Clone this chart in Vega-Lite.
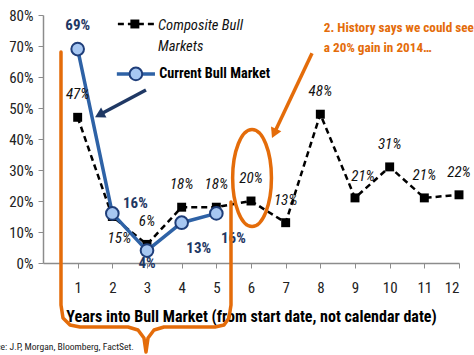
{
  "$schema": "https://vega.github.io/schema/vega-lite/v6.json",
  "width": 416,
  "height": 248,
  "autosize": "none",
  "padding": {"left": 43, "top": 15, "right": 15, "bottom": 92},
  "background": "white",
  "config": {
    "view": {"stroke": null},
    "font": "Roboto Condensed"
  },
  "datasets": {
    "composite": [
      {"year": 1, "gain": 47, "label": "47%"},
      {"year": 2, "gain": 15, "label": "15%"},
      {"year": 3, "gain": 6, "label": "6%"},
      {"year": 4, "gain": 18, "label": "18%"},
      {"year": 5, "gain": 18, "label": "18%"},
      {"year": 6, "gain": 20, "label": "20%"},
      {"year": 7, "gain": 13, "label": "13%"},
      {"year": 8, "gain": 48, "label": "48%"},
      {"year": 9, "gain": 21, "label": "21%"},
      {"year": 10, "gain": 31, "label": "31%"},
      {"year": 11, "gain": 21, "label": "21%"},
      {"year": 12, "gain": 22, "label": "22%"}
    ],
    "current": [
      {"year": 1, "gain": 69, "label": "69%"},
      {"year": 2, "gain": 16, "label": "16%"},
      {"year": 3, "gain": 4, "label": "4%"},
      {"year": 4, "gain": 13, "label": "13%"},
      {"year": 5, "gain": 16, "label": "16%"}
    ],
    "legendCompositeLine": [{"year": 2.16, "gain": 77.1}, {"year": 3.23, "gain": 77.1}],
    "legendCompositeMark": [{"year": 2.65, "gain": 77.1}],
    "legendCurrentLine": [{"year": 2.13, "gain": 61.0}, {"year": 3.23, "gain": 61.0}],
    "legendCurrentMark": [{"year": 2.68, "gain": 61.0}],
    "legendCompositeText": [
      {"year": 3.32, "gain": 76.4, "label": "Composite Bull"},
      {"year": 3.32, "gain": 69.8, "label": "Markets"}
    ],
    "legendCurrentText": [{"year": 3.35, "gain": 61.0, "label": "Current Bull Market"}],
    "navyArrow": [{"year": 2.97, "gain": 55.8}, {"year": 1.627, "gain": 47.8}],
    "navyHead": [{"year": 1.627, "gain": 47.8}],
    "bracket": [
      {"i": 1, "year": 0.519, "gain": 68.06},
      {"i": 2, "year": 0.519, "gain": -13.55},
      {"i": 3, "year": 0.577, "gain": -17.74},
      {"i": 4, "year": 0.779, "gain": -20.0},
      {"i": 5, "year": 1.067, "gain": -20.65},
      {"i": 6, "year": 2.452, "gain": -20.65},
      {"i": 7, "year": 2.74, "gain": -21.61},
      {"i": 8, "year": 2.913, "gain": -24.19},
      {"i": 9, "year": 2.971, "gain": -28.71},
      {"i": 10, "year": 3.029, "gain": -24.19},
      {"i": 11, "year": 3.202, "gain": -21.61},
      {"i": 12, "year": 3.49, "gain": -20.65},
      {"i": 13, "year": 4.961, "gain": -20.65},
      {"i": 14, "year": 5.221, "gain": -20.0},
      {"i": 15, "year": 5.365, "gain": -17.74},
      {"i": 16, "year": 5.423, "gain": -13.55},
      {"i": 17, "year": 5.423, "gain": 19.68}
    ],
    "ellipse": [{"year": 6.03, "gain": 27.4}],
    "orangeArrow": [{"year": 7.76, "gain": 67.7}, {"year": 6.666, "gain": 41.8}],
    "orangeHead": [{"year": 6.666, "gain": 41.8}],
    "orangeText": [
      {"year": 8.1, "gain": 75.8, "label": "2. History says we could see"},
      {"year": 8.1, "gain": 69.4, "label": "a 20% gain in 2014…"}
    ],
    "source": [{"year": -1.85, "gain": -27.1, "label": "Source: J.P, Morgan, Bloomberg, FactSet."}]
  },
  "encoding": {
    "x": {
      "field": "year",
      "type": "quantitative",
      "scale": {"domain": [0, 12], "nice": false, "zero": false},
      "axis": {
        "values": [1, 2, 3, 4, 5, 6, 7, 8, 9, 10, 11, 12],
        "format": "d",
        "grid": false,
        "domainColor": "#8c8c8c",
        "domainWidth": 1.5,
        "tickColor": "#8c8c8c",
        "tickSize": 5,
        "labelFont": "Roboto Condensed",
        "labelFontSize": 15,
        "labelColor": "#222222",
        "labelPadding": 12,
        "title": "Years into Bull Market (from start date, not calendar date)",
        "titleFont": "Roboto Condensed",
        "titleFontSize": 16,
        "titleFontWeight": "bold",
        "titleColor": "#000000",
        "titlePadding": 13
      }
    },
    "y": {
      "field": "gain",
      "type": "quantitative",
      "scale": {"domain": [0, 80], "nice": false},
      "axis": {
        "values": [0, 10, 20, 30, 40, 50, 60, 70, 80],
        "labelExpr": "datum.value + '%'",
        "title": null,
        "grid": false,
        "domainColor": "#8c8c8c",
        "domainWidth": 1.5,
        "tickColor": "#8c8c8c",
        "tickSize": 5,
        "labelFont": "Roboto Condensed",
        "labelFontSize": 15,
        "labelColor": "#222222",
        "labelPadding": 5
      }
    }
  },
  "layer": [
    {"data": {"name": "composite"}, "mark": {"type": "line", "color": "#000000", "strokeDash": [6, 4], "strokeWidth": 2.5}},
    {"data": {"name": "composite"}, "mark": {"type": "point", "shape": "square", "filled": true, "color": "#000000", "size": 80, "opacity": 1}},
    {"data": {"name": "current"}, "mark": {"type": "line", "color": "#2E62A6", "strokeWidth": 3.5}},
    {"data": {"name": "current"}, "mark": {"type": "point", "shape": "circle", "filled": true, "fill": "#A7C7F2", "stroke": "#1F3E7A", "strokeWidth": 2, "size": 160, "opacity": 1}},
    {"data": {"name": "composite"}, "transform": [{"filter": "datum.year != 2 && datum.year != 9"}],
     "mark": {"type": "text", "font": "Roboto Condensed", "fontStyle": "italic", "fontSize": 15, "color": "#111111", "dy": -23},
     "encoding": {"text": {"field": "label"}}},
    {"data": {"name": "composite"}, "transform": [{"filter": "datum.year == 2"}],
     "mark": {"type": "text", "font": "Roboto Condensed", "fontStyle": "italic", "fontSize": 15, "color": "#111111", "dx": 7, "dy": 21},
     "encoding": {"text": {"field": "label"}}},
    {"data": {"name": "composite"}, "transform": [{"filter": "datum.year == 9"}],
     "mark": {"type": "text", "font": "Roboto Condensed", "fontStyle": "italic", "fontSize": 15, "color": "#111111", "dx": 8, "dy": -22},
     "encoding": {"text": {"field": "label"}}},
    {"data": {"name": "current"}, "transform": [{"filter": "datum.year == 1"}],
     "mark": {"type": "text", "font": "Roboto Condensed", "fontWeight": "bold", "fontSize": 15, "color": "#1F3864", "dy": -24},
     "encoding": {"text": {"field": "label"}}},
    {"data": {"name": "current"}, "transform": [{"filter": "datum.year == 2"}],
     "mark": {"type": "text", "font": "Roboto Condensed", "fontWeight": "bold", "fontSize": 15, "color": "#1F3864", "dx": 23, "dy": -10},
     "encoding": {"text": {"field": "label"}}},
    {"data": {"name": "current"}, "transform": [{"filter": "datum.year == 3"}],
     "mark": {"type": "text", "font": "Roboto Condensed", "fontWeight": "bold", "fontSize": 15, "color": "#1F3864", "dy": 12},
     "encoding": {"text": {"field": "label"}}},
    {"data": {"name": "current"}, "transform": [{"filter": "datum.year >= 4"}],
     "mark": {"type": "text", "font": "Roboto Condensed", "fontWeight": "bold", "fontSize": 15, "color": "#1F3864", "dx": 17, "dy": 25},
     "encoding": {"text": {"field": "label"}}},
    {"data": {"name": "legendCompositeLine"}, "mark": {"type": "line", "color": "#000000", "strokeDash": [6, 4], "strokeWidth": 2.5}},
    {"data": {"name": "legendCompositeMark"}, "mark": {"type": "point", "shape": "square", "filled": true, "color": "#000000", "size": 80, "opacity": 1}},
    {"data": {"name": "legendCurrentLine"}, "mark": {"type": "line", "color": "#2E62A6", "strokeWidth": 3.5}},
    {"data": {"name": "legendCurrentMark"}, "mark": {"type": "point", "shape": "circle", "filled": true, "fill": "#A7C7F2", "stroke": "#1F3E7A", "strokeWidth": 2, "size": 160, "opacity": 1}},
    {"data": {"name": "legendCompositeText"},
     "mark": {"type": "text", "font": "Roboto Condensed", "fontStyle": "italic", "fontSize": 14.6, "color": "#111111", "align": "left", "baseline": "middle"},
     "encoding": {"text": {"field": "label"}}},
    {"data": {"name": "legendCurrentText"},
     "mark": {"type": "text", "font": "Roboto Condensed", "fontWeight": "bold", "fontSize": 14.2, "color": "#000000", "align": "left", "baseline": "middle"},
     "encoding": {"text": {"field": "label"}}},
    {"data": {"name": "navyArrow"}, "mark": {"type": "line", "color": "#1F3864", "strokeWidth": 3.5}},
    {"data": {"name": "navyHead"}, "mark": {"type": "point", "shape": "triangle-up", "filled": true, "color": "#1F3864", "size": 130, "angle": 242, "opacity": 1}},
    {"data": {"name": "bracket"}, "mark": {"type": "line", "color": "#E46C0A", "strokeWidth": 3.5, "strokeJoin": "round", "strokeCap": "round"},
     "encoding": {"order": {"field": "i", "type": "quantitative"}}},
    {"data": {"name": "ellipse"}, "mark": {"type": "point", "shape": "M -0.4 0 A 0.4 1 0 1 0 0.4 0 A 0.4 1 0 1 0 -0.4 0 Z", "filled": false, "stroke": "#E46C0A", "strokeWidth": 3.5, "size": 9409, "opacity": 1}},
    {"data": {"name": "orangeArrow"}, "mark": {"type": "line", "color": "#E46C0A", "strokeWidth": 3.5}},
    {"data": {"name": "orangeHead"}, "mark": {"type": "point", "shape": "triangle-up", "filled": true, "color": "#E46C0A", "size": 130, "angle": 205, "opacity": 1}},
    {"data": {"name": "orangeText"},
     "mark": {"type": "text", "font": "Roboto Condensed", "fontWeight": "bold", "fontSize": 13.2, "color": "#E46C0A", "align": "left", "baseline": "middle"},
     "encoding": {"text": {"field": "label"}}},
    {"data": {"name": "source"},
     "mark": {"type": "text", "font": "Roboto Condensed", "fontSize": 9.6, "color": "#222222", "align": "left", "baseline": "middle"},
     "encoding": {"text": {"field": "label"}}}
  ]
}
